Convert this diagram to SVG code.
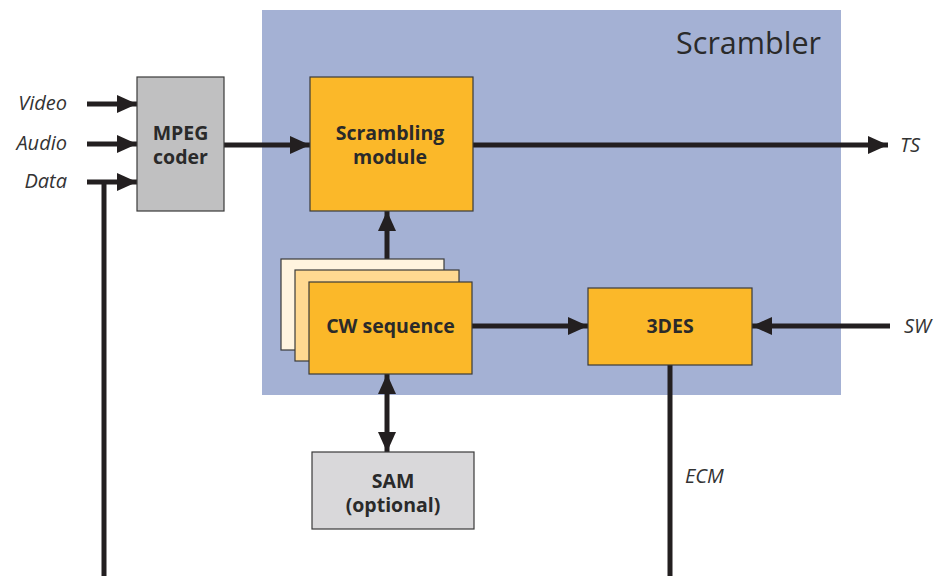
<svg xmlns="http://www.w3.org/2000/svg" width="948" height="576" viewBox="0 0 948 576">
  <defs>
    <style>
      .lbl { font-family: "Open Sans", "Liberation Sans", sans-serif; font-size: 20px; font-style: italic; fill: #333333; }
      .node { font-family: "Open Sans", "Liberation Sans", sans-serif; font-size: 19.5px; font-weight: bold; fill: #2a2a2a; text-anchor: middle; }
      .box { stroke: #3a3a3a; stroke-width: 1.2; }
      .wire { stroke: #231f20; stroke-width: 5; fill: none; }
    </style>
    <marker id="head" viewBox="0 0 20 18" refX="20" refY="9" markerWidth="20" markerHeight="18" markerUnits="userSpaceOnUse" orient="auto-start-reverse">
      <path d="M0,0 L20,9 L0,18 Z" fill="#231f20"/>
    </marker>
  </defs>

  <rect width="948" height="576" fill="#ffffff"/>

  <!-- Scrambler enclosure -->
  <g id="scrambler">
    <rect x="262" y="10" width="579" height="385" fill="#a4b1d4"/>
    <text x="821" y="54" font-family="'Open Sans', 'Liberation Sans', sans-serif" font-size="30.5" fill="#2a2a2a" text-anchor="end">Scrambler</text>
  </g>

  <!-- Connectors -->
  <g id="connectors">
    <line class="wire" x1="87" y1="104" x2="137" y2="104" marker-end="url(#head)"/>
    <line class="wire" x1="87" y1="144" x2="137" y2="144" marker-end="url(#head)"/>
    <line class="wire" x1="87" y1="182" x2="137" y2="182" marker-end="url(#head)"/>
    <line class="wire" x1="104" y1="180" x2="104" y2="576"/>
    <line class="wire" x1="224" y1="145" x2="310" y2="145" marker-end="url(#head)"/>
    <line class="wire" x1="473" y1="145" x2="888" y2="145" marker-end="url(#head)"/>
    <line class="wire" x1="387" y1="282" x2="387" y2="211" marker-end="url(#head)"/>
    <line class="wire" x1="472" y1="326" x2="588" y2="326" marker-end="url(#head)"/>
    <line class="wire" x1="890" y1="326" x2="752" y2="326" marker-end="url(#head)"/>
    <line class="wire" x1="387" y1="374" x2="387" y2="452" marker-start="url(#head)" marker-end="url(#head)"/>
    <line class="wire" x1="670" y1="365" x2="670" y2="576"/>
  </g>

  <!-- Input / output labels -->
  <g id="labels">
    <text class="lbl" x="67" y="110" text-anchor="end">Video</text>
    <text class="lbl" x="67" y="150" text-anchor="end">Audio</text>
    <text class="lbl" x="67" y="188" text-anchor="end">Data</text>
    <text class="lbl" x="900" y="152">TS</text>
    <text class="lbl" x="904" y="333">SW</text>
    <text class="lbl" x="685" y="483">ECM</text>
  </g>

  <g id="mpeg-coder">
    <rect class="box" x="137" y="77" width="87" height="134" fill="#c0c0c1"/>
    <text class="node" x="180.5" y="140">MPEG</text>
    <text class="node" x="180.5" y="164">coder</text>
  </g>

  <g id="scrambling-module">
    <rect class="box" x="310" y="77" width="163" height="134" fill="#fbb829"/>
    <text class="node" x="390" y="140">Scrambling</text>
    <text class="node" x="390" y="164">module</text>
  </g>

  <g id="cw-sequence">
    <rect class="box" x="281" y="259" width="163" height="91" fill="#fff4df"/>
    <rect class="box" x="295" y="270" width="164" height="91" fill="#ffd991"/>
    <rect class="box" x="309" y="282" width="163" height="92" fill="#fbb829"/>
    <text class="node" x="390.5" y="333">CW sequence</text>
  </g>

  <g id="des3">
    <rect class="box" x="588" y="288" width="164" height="77" fill="#fbb829"/>
    <text class="node" x="670" y="333">3DES</text>
  </g>

  <g id="sam">
    <rect class="box" x="312" y="452" width="162" height="77" fill="#d9d8da"/>
    <text class="node" x="393" y="488">SAM</text>
    <text class="node" x="393" y="512">(optional)</text>
  </g>
</svg>
